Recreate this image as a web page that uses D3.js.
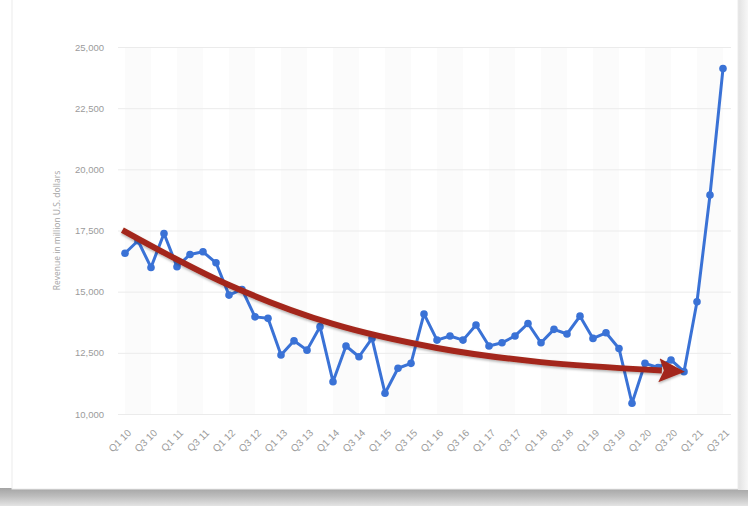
<!DOCTYPE html>
<html>
<head>
<meta charset="utf-8">
<script src="https://cdn.jsdelivr.net/npm/d3@7"></script>
<style>
  body { margin: 0; background: #ffffff; }
  svg { display: block; font-family: "Open Sans", "Noto Sans", sans-serif; }
</style>
</head>
<body>
<div id="chart"></div>
<script>
// quarterly revenue, Q1 2010 - Q3 2021 (million U.S. dollars)
const quarters = [];
for (let yr = 10; yr <= 21; yr++) {
    for (let q = 1; q <= 4; q++) {
        if (yr === 21 && q > 3) break;
        quarters.push(`Q${q} ${yr}`);
    }
}
const revenue = [
    16570, 17080, 15990, 17380,
    16020, 16520, 16630, 16180,
    14860, 15090, 13970, 13910,
    12410, 12990, 12610, 13570,
    11320, 12780, 12340, 13090,
    10850, 11870, 12070, 14090,
    13020, 13190, 13020, 13640,
    12780, 12910, 13190, 13700,
    12910, 13460, 13270, 14000,
    13090, 13320, 12680, 10440,
    12070, 11900, 12210, 11730,
    14590, 18950, 24120
];
const yTicks = [10000, 12500, 15000, 17500, 20000, 22500, 25000];
// every second quarter gets a label
const xTickLabels = quarters.filter((d, i) => i % 2 === 0);

// trend arrow drawn over the chart (quarter index, value)
const arrowIdx = [-0.2, 8, 16, 24, 32, 41.3];
const arrowVal = [17520, 15270, 13680, 12700, 12120, 11780];

// set the svg up
let svgWidth = 748;
let svgHeight = 506;

let svg = d3.select("#chart")
    .append("svg")
    .attr("width", svgWidth)
    .attr("height", svgHeight);

let defs = svg.append("defs");

// card shadow
let shadowGrad = defs.append("linearGradient")
    .attr("id", "bottomShadow")
    .attr("x1", 0).attr("y1", 0).attr("x2", 0).attr("y2", 1);
shadowGrad.append("stop").attr("offset", "0%").attr("stop-color", "#a4a4a4");
shadowGrad.append("stop").attr("offset", "45%").attr("stop-color", "#bdbdbd");
shadowGrad.append("stop").attr("offset", "100%").attr("stop-color", "#e4e4e4");

let sideGrad = defs.append("linearGradient")
    .attr("id", "sideShadow")
    .attr("x1", 0).attr("y1", 0).attr("x2", 1).attr("y2", 0);
sideGrad.append("stop").attr("offset", "0%").attr("stop-color", "#e2e2e2");
sideGrad.append("stop").attr("offset", "100%").attr("stop-color", "#f7f7f7");

svg.append("rect")
    .attr("x", 0).attr("y", 488)
    .attr("width", svgWidth).attr("height", 18)
    .attr("fill", "url(#bottomShadow)");
svg.append("rect")
    .attr("x", 738).attr("y", 0)
    .attr("width", 10).attr("height", 490)
    .attr("fill", "url(#sideShadow)");
svg.append("rect")
    .attr("x", 12).attr("y", -2)
    .attr("width", 726).attr("height", 491)
    .attr("fill", "#ffffff")
    .attr("stroke", "#ececec")
    .attr("stroke-width", 1);

// scales
let xScale = d3.scalePoint()
    .domain(quarters)
    .range([125, 723]);
let step = xScale.step();
let xIdx = i => 125 + i * step;

let yScale = d3.scaleLinear()
    .domain([10000, 25000])
    .range([414, 47]);

let plotLeft = 118;
let plotRight = 731;

// alternating column shading
let bandStarts = quarters.filter((d, i) => i % 4 === 0 && i + 2 < quarters.length);
svg.append("g")
    .selectAll("rect")
    .data(bandStarts)
    .enter()
    .append("rect")
    .attr("x", d => xScale(d))
    .attr("y", yScale(25000))
    .attr("width", step * 2)
    .attr("height", yScale(10000) - yScale(25000))
    .attr("fill", "#fbfbfb");

// y grid + labels
let yAxis = d3.axisLeft(yScale)
    .tickValues(yTicks)
    .tickSize(-(plotRight - plotLeft))
    .tickPadding(14)
    .tickFormat(d3.format(","));

svg.append("g")
    .attr("transform", `translate(${plotLeft},0)`)
    .call(yAxis)
    .call(g => g.select(".domain").remove())
    .call(g => g.selectAll("line").attr("stroke", "#ebebeb").attr("stroke-width", 1))
    .call(g => g.selectAll("text")
        .attr("fill", "#9b9b9b")
        .attr("font-size", "9.5px"));

// x labels
let xAxis = d3.axisBottom(xScale)
    .tickValues(xTickLabels)
    .tickSize(0)
    .tickPadding(0);

svg.append("g")
    .attr("transform", `translate(0,${yScale(10000)})`)
    .call(xAxis)
    .call(g => g.select(".domain").remove())
    .call(g => g.selectAll("text")
        .attr("fill", "#9b9b9b")
        .attr("font-size", "10px")
        .attr("text-anchor", "end")
        .attr("dy", "0.35em")
        .attr("transform", "translate(4,17) rotate(-45)"));

// y axis title
svg.append("text")
    .attr("transform", `translate(60,${(yScale(10000) + yScale(25000)) / 2}) rotate(-90)`)
    .attr("text-anchor", "middle")
    .attr("fill", "#a3a3a3")
    .attr("font-size", "8.5px")
    .text("Revenue in million U.S. dollars");

// revenue line
let line = d3.line()
    .x((d, i) => xScale(quarters[i]))
    .y(d => yScale(d));

svg.append("path")
    .datum(revenue)
    .attr("fill", "none")
    .attr("stroke", "#3a72d6")
    .attr("stroke-width", 3)
    .attr("stroke-linejoin", "round")
    .attr("d", line);

svg.append("g")
    .selectAll("circle")
    .data(revenue)
    .enter()
    .append("circle")
    .attr("cx", (d, i) => xScale(quarters[i]))
    .attr("cy", d => yScale(d))
    .attr("r", 3.8)
    .attr("fill", "#3a72d6");

// red trend arrow
let arrowFilter = defs.append("filter")
    .attr("id", "arrowShadow")
    .attr("x", "-10%").attr("y", "-50%")
    .attr("width", "120%").attr("height", "200%");
arrowFilter.append("feDropShadow")
    .attr("dx", 0).attr("dy", 1.5)
    .attr("stdDeviation", 1.2)
    .attr("flood-color", "#000")
    .attr("flood-opacity", 0.3);

defs.append("marker")
    .attr("id", "arrowHead")
    .attr("markerUnits", "userSpaceOnUse")
    .attr("viewBox", "0 0 26 24")
    .attr("refX", 3)
    .attr("refY", 12)
    .attr("markerWidth", 26)
    .attr("markerHeight", 24)
    .attr("orient", "auto")
    .append("path")
    .attr("d", "M0,0 L26,12 L0,24 L5,12 Z")
    .attr("fill", "#a3281a");

let arrowPts = arrowIdx.map((d, i) => [xIdx(d), yScale(arrowVal[i])]);
svg.append("path")
    .datum(arrowPts)
    .attr("fill", "none")
    .attr("stroke", "#a3281a")
    .attr("stroke-width", 6)
    .attr("stroke-linecap", "butt")
    .attr("filter", "url(#arrowShadow)")
    .attr("marker-end", "url(#arrowHead)")
    .attr("d", d3.line().curve(d3.curveCatmullRom));
</script>
</body>
</html>
